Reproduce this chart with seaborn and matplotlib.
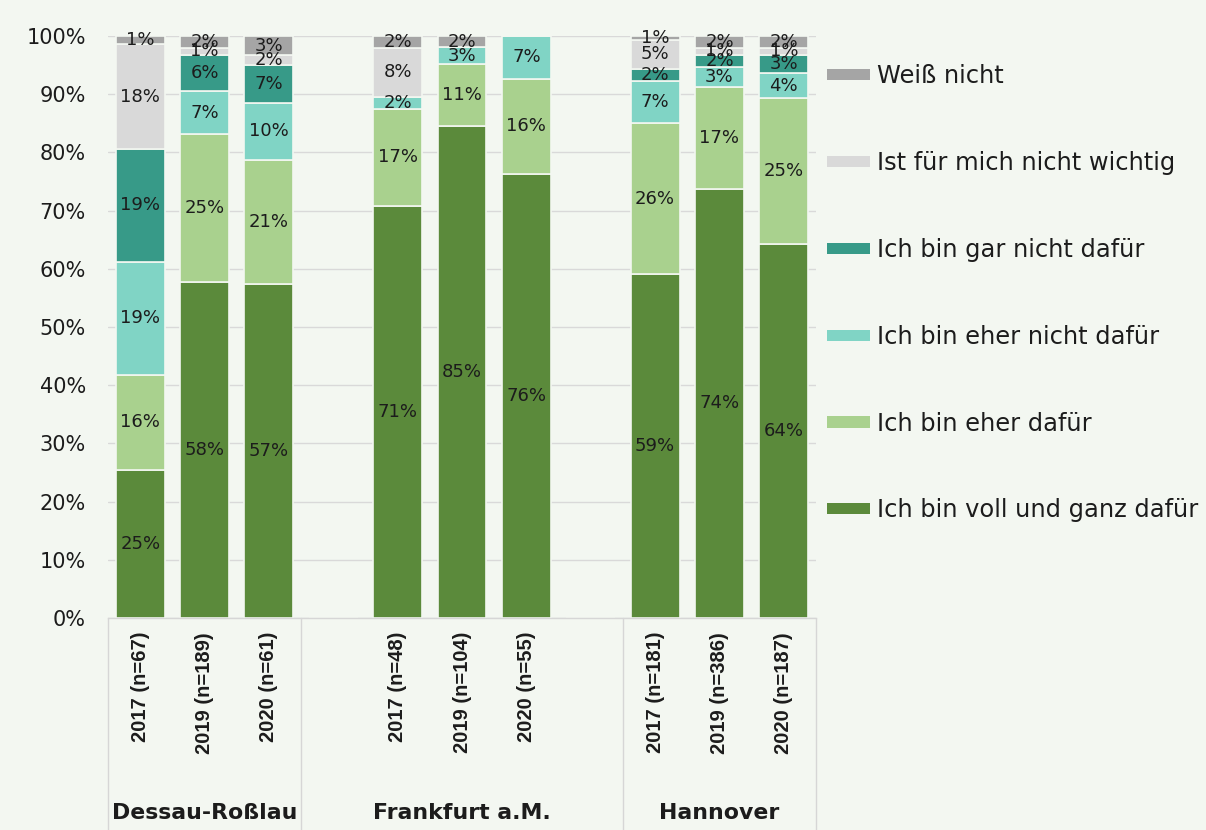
import matplotlib
matplotlib.use("Agg")
import matplotlib.pyplot as plt
import matplotlib.transforms as mtransforms
from matplotlib.patches import Patch
import pandas as pd
import seaborn as sns

# ---- data -------------------------------------------------------------
cities = ["Dessau-Roßlau", "Frankfurt a.M.", "Hannover"]
years = ["2017", "2019", "2020"]
sample_sizes = [[67, 189, 61], [48, 104, 55], [181, 386, 187]]

# answer categories, top of the stack first
answers = [
    "Weiß nicht",
    "Ist für mich nicht wichtig",
    "Ich bin gar nicht dafür",
    "Ich bin eher nicht dafür",
    "Ich bin eher dafür",
    "Ich bin voll und ganz dafür",
]

# shares in percent: Dessau 17/19/20, Frankfurt 17/19/20, Hannover 17/19/20
voll_dafuer = [25.4, 57.7, 57.4, 70.8, 84.6, 76.3, 59.1, 73.8, 64.2]
eher_dafuer = [16.4, 25.4, 21.3, 16.7, 10.6, 16.4, 25.9, 17.4, 25.1]
eher_nicht_dafuer = [19.4, 7.4, 9.8, 2.1, 2.9, 7.3, 7.2, 3.4, 4.3]
gar_nicht_dafuer = [19.4, 6.3, 6.6, 0.0, 0.0, 0.0, 2.2, 2.1, 3.2]
nicht_wichtig = [18.0, 1.1, 1.6, 8.3, 0.0, 0.0, 5.0, 1.3, 1.1]
weiss_nicht = [1.4, 2.1, 3.3, 2.1, 1.9, 0.0, 0.6, 2.0, 2.1]

series = {
    "Weiß nicht": weiss_nicht,
    "Ist für mich nicht wichtig": nicht_wichtig,
    "Ich bin gar nicht dafür": gar_nicht_dafuer,
    "Ich bin eher nicht dafür": eher_nicht_dafuer,
    "Ich bin eher dafür": eher_dafuer,
    "Ich bin voll und ganz dafür": voll_dafuer,
}

colors = {
    "Weiß nicht": "#a5a5a5",
    "Ist für mich nicht wichtig": "#d9d9d9",
    "Ich bin gar nicht dafür": "#379a88",
    "Ich bin eher nicht dafür": "#80d4c5",
    "Ich bin eher dafür": "#a9d18e",
    "Ich bin voll und ganz dafür": "#5b8a3b",
}

BG = "#f3f7f1"
TEXT = "#1c1c1c"

# ---- bar positions: one empty slot between city groups -----------------
group_starts = [0, 4, 8]
positions = [s + i for s in group_starts for i in range(len(years))]
group_centers = [1, 5, 9]
group_edges = [-0.5, 2.5, 7.5, 10.5]

rows = []
for answer in answers:
    for k, pos in enumerate(positions):
        rows.append({"pos": pos, "answer": answer, "share": series[answer][k]})
df = pd.DataFrame(rows)

# ---- figure -----------------------------------------------------------
sns.set_theme(style="white")
plt.rcParams["font.family"] = ["DejaVu Sans"]

fig = plt.figure(figsize=(12.06, 8.30), dpi=100, facecolor=BG)
ax = fig.add_axes([0.0896, 0.2554, 0.587, 0.7012])
ax.set_facecolor(BG)

sns.histplot(
    data=df, x="pos", weights="share", hue="answer", hue_order=answers,
    multiple="stack", discrete=True, shrink=0.76, palette=colors,
    alpha=1, edgecolor=BG, linewidth=1.2, legend=False, ax=ax, zorder=2,
)

ax.set_xlim(-0.5, 10.5)
ax.set_ylim(0, 100)
ax.set_axisbelow(True)
ax.set_yticks(range(0, 101, 10))
ax.set_yticklabels([f"{v}%" for v in range(0, 101, 10)], fontsize=15, color=TEXT)
ax.yaxis.grid(True, color="#d9d9d9", linewidth=1.0)
ax.xaxis.grid(False)
ax.tick_params(axis="y", length=0, pad=16)
ax.set_xlabel("")
ax.set_ylabel("")
for side in ["left", "right", "top"]:
    ax.spines[side].set_visible(False)
ax.spines["bottom"].set_color("#d6d6d6")
ax.spines["bottom"].set_linewidth(1.0)

# category tick labels
tick_labels = [f"{y} (n={n})" for city_n in sample_sizes for y, n in zip(years, city_n)]
ax.set_xticks(positions)
ax.set_xticklabels(tick_labels, rotation=90, fontsize=14.5, fontweight="bold",
                   family="Liberation Sans", color=TEXT)
ax.tick_params(axis="x", length=0, pad=10)

# boxes around the city groups below the axis
trans = mtransforms.blended_transform_factory(ax.transData, ax.transAxes)
for xe in group_edges:
    ax.plot([xe, xe], [0, -0.37], transform=trans, color="#d6d6d6",
            linewidth=1.0, clip_on=False)
for city, xc in zip(cities, group_centers):
    ax.text(xc, -0.335, city, transform=trans, ha="center", va="center",
            fontsize=15.8, fontweight="bold", color=TEXT)

# value labels at the middle of each segment, bottom segment first
stack_order = answers[::-1]
for k, pos in enumerate(positions):
    base = 0.0
    for answer in stack_order:
        v = series[answer][k]
        if v > 0:
            ax.text(pos, base + v / 2, f"{v:.0f}%", ha="center", va="center",
                    fontsize=13, color=TEXT, zorder=5)
        base += v

# legend
handles = [Patch(facecolor=colors[a], edgecolor="none", label=a) for a in answers]
fig.legend(handles=handles, loc="upper left", bbox_to_anchor=(0.6857, 0.9225),
           frameon=False, fontsize=17.4, handlelength=1.78, handleheight=0.34,
           handletextpad=0.3, labelspacing=2.6, borderpad=0, borderaxespad=0,
           labelcolor=TEXT)

fig.savefig("out.png", dpi=100, facecolor=BG)
